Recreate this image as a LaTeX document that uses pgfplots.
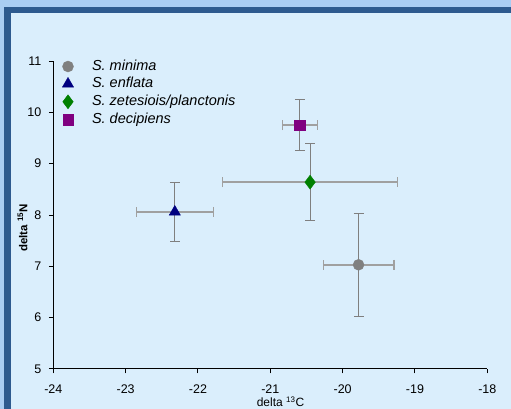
\documentclass[border=0pt]{standalone}
\usepackage{pgfplots}
\pgfplotsset{compat=1.18}
\usepackage{fontspec}
\setmainfont{Liberation Sans}
\definecolor{outerblue}{HTML}{A9CDF3}
\definecolor{framedark}{HTML}{2D5A8F}
\definecolor{innerfill}{HTML}{DAEEFC}
\definecolor{errv}{HTML}{7F7F7F}
\definecolor{errh}{HTML}{A0A0A0}
\definecolor{sgreen}{HTML}{008000}
\definecolor{spurple}{HTML}{800080}
\definecolor{snavy}{HTML}{000080}
\definecolor{sgray}{HTML}{808080}
\begin{document}
\begin{tikzpicture}
\useasboundingbox (0pt,0pt) rectangle (511pt,409pt);
\fill[outerblue] (0pt,0pt) rectangle (511pt,409pt);
\fill[framedark] (4pt,0pt) rectangle (511pt,402pt);
\fill[innerfill] (10.5pt,0pt) rectangle (511pt,395.5pt);
\begin{axis}[
  at={(53.3pt,40pt)}, anchor=south west,
  scale only axis, width=434pt, height=308pt,
  xmin=-24, xmax=-18, ymin=5, ymax=11,
  axis x line*=bottom, axis y line*=left,
  axis line style={black, line width=1pt},
  tick align=outside, major tick length=4.5pt,
  tick style={black, line width=1pt},
  xtick={-24,-23,...,-18}, ytick={5,6,...,11},
  /pgf/number format/assume math mode=true,
  ticklabel style={font=\fontsize{12.5}{14}\selectfont},
  xticklabel style={yshift=-8pt},
  yticklabel style={xshift=-4pt},
  xlabel={delta \textsuperscript{13}C},
  ylabel={\textbf{delta \textsuperscript{15}N}},
  xlabel style={font=\fontsize{12}{14}\selectfont, at={(axis description cs:0.5235,-0.090)}, anchor=north, inner sep=0pt},
  ylabel style={font=\fontsize{11.5}{14}\selectfont, at={(axis description cs:-0.071,0.458)}, anchor=center, inner sep=0pt},
  legend image code/.code={\draw[#1] plot coordinates {(0pt,0pt)}; \path[draw=none, fill=none] (-10pt,-5pt) rectangle (24pt,5pt);},
  legend style={draw=none, fill=none, at={(axis description cs:0,1)}, anchor=north west,
    xshift=4.7pt, yshift=1pt, inner sep=0pt, outer sep=0pt,
    nodes={inner sep=0pt, text height=10pt, text depth=3pt},
    font=\fontsize{14.5}{16}\selectfont\itshape, row sep=4.4pt},
  legend cell align=left,
  clip=false,
]
% horizontal error bars
\addplot[forget plot, only marks, mark=none, draw=errh,
  error bars/.cd, x dir=both, x explicit,
  error bar style={draw=errh, line width=1.5pt},
  error mark options={rotate=90, mark size=5pt, draw=errh, line width=1.2pt}]
coordinates {
(-19.78,7.03) +- (0.49,0)
(-22.32,8.06) +- (0.53,0)
(-20.45,8.64) +- (1.21,0)
(-20.59,9.75) +- (0.24,0)
};
% vertical error bars
\addplot[forget plot, only marks, mark=none, draw=errv,
  error bars/.cd, y dir=both, y explicit,
  error bar style={draw=errv, line width=1pt},
  error mark options={rotate=90, mark size=5pt, draw=errv, line width=1pt}]
coordinates {
(-19.78,7.03) +- (0,1.0)
(-22.32,8.06) +- (0,0.58)
(-20.45,8.64) +- (0,0.75)
(-20.59,9.75) +- (0,0.5)
};
\addplot[only marks, mark=*, mark size=5.5pt, mark options={draw=sgray, fill=sgray}] coordinates {(-19.78,7.03)};
\addlegendentry{S. minima}
\addplot[only marks, mark=triangle*, mark size=6.5pt, mark options={draw=snavy, fill=snavy}] coordinates {(-22.32,8.06)};
\addlegendentry{S. enflata}
\addplot[only marks, mark=diamond*, mark size=7pt, mark options={draw=sgreen, fill=sgreen}] coordinates {(-20.45,8.64)};
\addlegendentry{S. zetesiois/planctonis}
\addplot[only marks, mark=square*, mark size=5.3pt, mark options={draw=spurple, fill=spurple}] coordinates {(-20.59,9.75)};
\addlegendentry{S. decipiens}
\end{axis}
\end{tikzpicture}
\end{document}
